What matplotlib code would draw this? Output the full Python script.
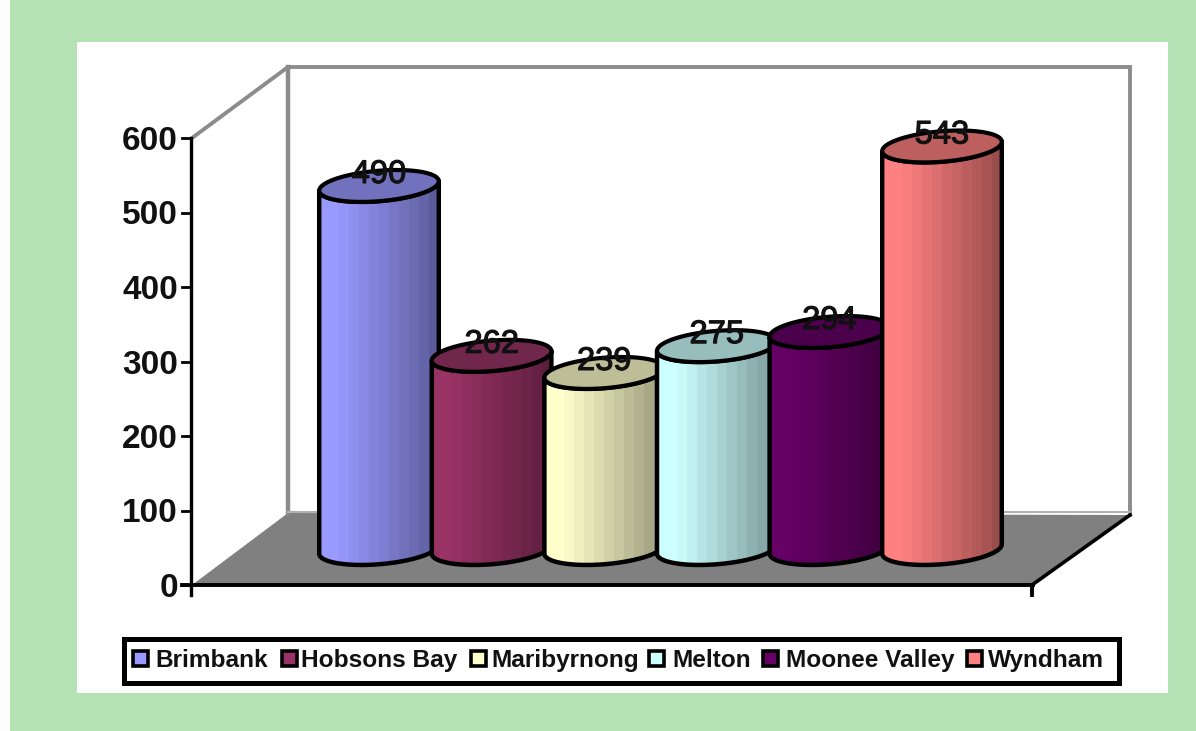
import numpy as np
import matplotlib
matplotlib.use('Agg')
import matplotlib.pyplot as plt
import matplotlib.patheffects as pe
from matplotlib.patches import Polygon, Rectangle, PathPatch
from matplotlib.path import Path

# values
areas = ['Brimbank', 'Hobsons Bay', 'Maribyrnong', 'Melton', 'Moonee Valley', 'Wyndham']
values = [490, 262, 239, 275, 294, 543]
colors = ['#9999FF', '#993366', '#FFFFCC', '#CCFFFF', '#660066', '#FF8080']
yticks = [0, 100, 200, 300, 400, 500, 600]

W, H = 1196, 731
FONT = 'Liberation Sans'
PX_PER_UNIT = 447 / 600
Y0_PX = 585


# x stays in image pixels, y is in chart units (0 at the axis foot)
def yv(px):
    return (Y0_PX - px) / PX_PER_UNIT


fig = plt.figure(figsize=(W / 100, H / 100), dpi=100, facecolor='white')
ax = fig.add_axes([0, 0, 1, 1])
ax.set_xlim(0, W)
ax.set_ylim(yv(H), yv(0))
ax.axis('off')

# page and panel
ax.add_patch(Rectangle((10, yv(H)), W - 10, H / PX_PER_UNIT, fc='#B5E2B5', ec='none', zorder=0))
ax.add_patch(Rectangle((77, yv(693)), 1091, 651 / PX_PER_UNIT, fc='white', ec='none', zorder=1))

# floor and walls
grey = '#8C8C8C'
ax.add_patch(Polygon([(192, yv(585)), (1032, yv(585)), (1130, yv(515)), (288, yv(513))],
                     fc='#808080', ec='none', zorder=2))
ax.plot([192, 288, 1130, 1130], [yv(138), yv(67), yv(67), yv(515)], color=grey, lw=2.8, zorder=2,
        solid_joinstyle='miter')
ax.plot([288, 288], [yv(67), yv(513)], color=grey, lw=3.2, zorder=2)
ax.plot([288, 1130], [yv(512), yv(512)], color='#B0B0B0', lw=1.5, zorder=2)

# axis lines and ticks
ax.plot([191, 191], [yv(138), yv(595)], color='black', lw=2.4, zorder=3)
ax.plot([182, 1033], [yv(585), yv(585)], color='black', lw=2.8, zorder=3)
ax.plot([1032, 1130], [yv(585), yv(515)], color='black', lw=2.6, zorder=3)
ax.plot([1032, 1032], [yv(585), yv(595)], color='black', lw=2.8, zorder=3)
for t in yticks:
    ax.plot([182, 191], [t, t], color='black', lw=2, zorder=3)
    ax.text(178, t, str(t), ha='right', va='center_baseline', fontsize=24,
            fontweight='bold', family=FONT, color='#111111', zorder=3)

# cylinders
BAR_W = 120
STEP = 112.6
LEFT = 319
BASE = yv(549)
TOP_SHIFT = 2 / PX_PER_UNIT
TILT = 4.8
SEMI_MINOR = 15.2
rad = np.deg2rad(TILT)
# gradient of the cylinder side: full colour near the left, darker to the right
shade = np.array([1, 1, 0.98, 0.94, 0.9, 0.86, 0.82, 0.78, 0.74, 0.70, 0.66, 0.6])


def ell(cx, cy, t):
    # tilted ellipse, with x in px and y in chart units
    x = cx + 60 * np.cos(t) * np.cos(rad) - SEMI_MINOR * np.sin(t) * np.sin(rad)
    y = cy + (60 * np.cos(t) * np.sin(rad) + SEMI_MINOR * np.sin(t) * np.cos(rad)) / PX_PER_UNIT
    return x, y


for i, (name, v, c) in enumerate(zip(areas, values, colors)):
    cx = LEFT + i * STEP + BAR_W / 2
    top = BASE + v - TOP_SHIFT
    rgb = np.array(matplotlib.colors.to_rgb(c))
    z = 10 + i

    # outline of the side: down the left, lower half of the base ellipse, up the right
    t = np.linspace(np.pi, 2 * np.pi, 60)
    bx, by = ell(cx, BASE, t)
    tx, ty = ell(cx, top, t[::-1])
    verts = np.column_stack([np.r_[bx, tx], np.r_[by, ty]])
    side = Path(np.vstack([verts, verts[:1]]), closed=True)
    img = (shade[None, :, None] * rgb[None, None, :]).clip(0, 1)
    im = ax.imshow(img, extent=[cx - 60, cx + 60, BASE - 40, top + 40], aspect='auto',
                   interpolation='nearest', zorder=z)
    patch = PathPatch(side, fc='none', ec='black', lw=3.2, zorder=z + 0.1, joinstyle='round')
    ax.add_patch(patch)
    im.set_clip_path(patch)

    # top face
    t = np.linspace(0, 2 * np.pi, 120)
    ex, ey = ell(cx, top, t)
    ax.add_patch(Polygon(np.column_stack([ex, ey]), closed=True, fc=rgb * 0.74, ec='black',
                         lw=3.0, zorder=z + 0.2))
    lab = ax.text(cx, top + 15 / PX_PER_UNIT, str(v), ha='center', va='center_baseline', fontsize=23.5,
                  family=FONT, color='#111111', zorder=30)
    lab.set_path_effects([pe.withStroke(linewidth=0.8, foreground='#111111')])

# legend box
ax.add_patch(Rectangle((124, yv(683)), 995, 44 / PX_PER_UNIT, fc='white', ec='black', lw=3.6, zorder=20))
swatch_x = [133, 282, 471, 649, 763, 967]
label_x = [155, 301, 491, 672, 786, 988]
for name, c, sx, lx in zip(areas, colors, swatch_x, label_x):
    ax.add_patch(Rectangle((sx, yv(666)), 15, 15 / PX_PER_UNIT, fc=c, ec='black', lw=2.6, zorder=21))
    ax.text(lx, yv(658), name, ha='left', va='center_baseline', fontsize=17.6, fontweight='bold',
            family=FONT, color='#111111', zorder=21)

ax.set_xlim(0, W)
ax.set_ylim(yv(H), yv(0))
fig.savefig('out.png', dpi=100, facecolor='white')
